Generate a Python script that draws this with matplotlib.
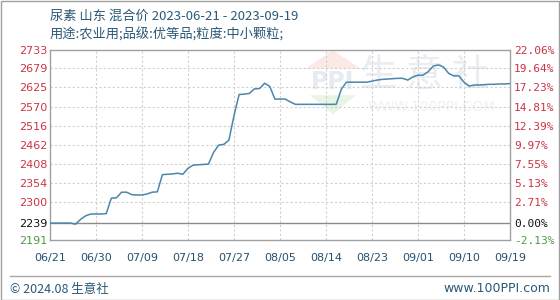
import numpy as np
import pandas as pd
import matplotlib
matplotlib.use('Agg')
import matplotlib.pyplot as plt
from matplotlib.patches import Rectangle, Polygon

plt.rcParams['font.family'] = ['Noto Sans CJK SC', 'DejaVu Sans']

# data, one value per day from 2023-06-21
start_date = '2023-06-21'
prices = [2239, 2239, 2239, 2239, 2239, 2236, 2250, 2260, 2265, 2265,
          2265, 2266, 2310, 2311, 2327, 2327, 2320, 2319, 2319, 2322,
          2327, 2328, 2377, 2378, 2379, 2381, 2378, 2395, 2404, 2405,
          2406, 2407, 2440, 2461, 2463, 2475, 2545, 2605, 2606, 2608,
          2621, 2622, 2637, 2628, 2592, 2592, 2592, 2584, 2577, 2577,
          2577, 2577, 2577, 2577, 2577, 2577, 2577, 2620, 2640, 2640,
          2640, 2640, 2640, 2643, 2646, 2648, 2649, 2650, 2651, 2651,
          2646, 2655, 2660, 2660, 2670, 2686, 2689, 2683, 2665, 2658,
          2658, 2640, 2629, 2632, 2632, 2633, 2634, 2634, 2635, 2635,
          2636]
base_price = 2239
y_ticks = [2191, 2239, 2300, 2354, 2408, 2462, 2516, 2570, 2625, 2679, 2733]
y_labels = ['2191', '2239', '2300', '2354', '2408', '2462', '2516', '2570', '2625', '2679', '2733']
pct_labels = ['-2.13%', '0.00%', '2.71%', '5.13%', '7.55%', '9.97%', '12.39%',
              '14.81%', '17.23%', '19.64%', '22.06%']
x_ticks = ['06/21', '06/30', '07/09', '07/18', '07/27', '08/05', '08/14',
           '08/23', '09/01', '09/10', '09/19']

title_text = '尿素 山东 混合价 2023-06-21 - 2023-09-19'
sub_text = '用途:农业用;品级:优等品;粒度:中小颗粒;'

dates = pd.date_range(start_date, periods=len(prices), freq='D')
tick_dates = [pd.Timestamp('2023-' + t.replace('/', '-')) for t in x_ticks]

W, H = 560, 300
fig = plt.figure(figsize=(W / 100, H / 100), dpi=100)
fig.patch.set_facecolor('white')
fig.patches.append(Rectangle((0.5 / W, 0.5 / H), 1 - 1.5 / W, 1 - 1.5 / H,
                             transform=fig.transFigure, fill=False,
                             edgecolor='#a0a0a0', linewidth=1))

ax = fig.add_axes([50 / W, 60 / H, 460 / W, 190.5 / H])
ax.set_xlim(dates[0], dates[-1])
ax.set_ylim(2191, 2733)

# watermark
wm = '#e9edf2'
ax.text(0.815, 0.865, '生 意 社', transform=ax.transAxes, fontsize=27,
        color=wm, ha='center', va='center', zorder=0)
ax.text(0.83, 0.70, 'WWW.100PPI.COM', transform=ax.transAxes, fontsize=10,
        color='#eef1f4', ha='center', va='center', zorder=0,
        family=['DejaVu Sans'])
ax.add_patch(Polygon([[0.555, 0.90], [0.615, 0.995], [0.675, 0.90]],
                     closed=True, transform=ax.transAxes,
                     facecolor='#fbe9e6', edgecolor='none', zorder=0))
ax.add_patch(Polygon([[0.565, 0.76], [0.615, 0.66], [0.665, 0.76]],
                     closed=True, transform=ax.transAxes,
                     facecolor='#e8f4e5', edgecolor='none', zorder=0))
ax.text(0.615, 0.83, 'PPI', transform=ax.transAxes, fontsize=17,
        fontweight='bold', color='#e6ebf2', ha='center', va='center',
        zorder=0, family=['DejaVu Sans'])

for t in y_ticks[2:-1]:
    ax.axhline(t, color='#cfcfcf', linestyle=(0, (2, 2)), linewidth=0.8, zorder=1)
for d in tick_dates[1:-1]:
    ax.axvline(d, color='#cfcfcf', linestyle=(0, (2, 2)), linewidth=0.8, zorder=1)
ax.axhline(base_price, color='#8a8a8a', linewidth=1, zorder=2)

ax.plot(dates, prices, color='#4a86ab', linewidth=1.1, zorder=3)

for s in ax.spines.values():
    s.set_color('#a0a0a0')
    s.set_linewidth(1)

ax.set_yticks(y_ticks)
ax.set_yticklabels(y_labels, family=['DejaVu Sans'])
ax.set_xticks(tick_dates)
ax.set_xticklabels(x_ticks, family=['DejaVu Sans'])
ax.tick_params(axis='both', length=0, labelsize=8)
ax.tick_params(axis='y', pad=22)
for lbl in ax.get_yticklabels():
    lbl.set_ha('left')
ax.tick_params(axis='x', pad=9, colors='#25506e')
ylc = ['#4f9a46', '#111111'] + ['#cc3344'] * 9
for lbl, c in zip(ax.get_yticklabels(), ylc):
    lbl.set_color(c)

ax2 = ax.twinx()
ax2.set_ylim(2191, 2733)
ax2.set_yticks(y_ticks)
ax2.set_yticklabels(pct_labels, family=['DejaVu Sans Mono'])
ax2.tick_params(axis='y', length=0, labelsize=8, pad=3)
for lbl, c in zip(ax2.get_yticklabels(), ylc):
    lbl.set_color(c)
for s in ax2.spines.values():
    s.set_visible(False)

tc = '#2a5878'
fig.text(50 / W, 1 - 16 / H, title_text, fontsize=9.5, color=tc, va='center')
fig.text(50 / W, 1 - 35 / H, sub_text, fontsize=9.5, color=tc, va='center')

fig.add_artist(plt.Line2D([10 / W, 550 / W], [1 - 276 / H, 1 - 276 / H],
                          transform=fig.transFigure, color='#a8a8a8', linewidth=1))
fig.text(10 / W, 1 - 289 / H, '© 2024.08 生意社', fontsize=9, color=tc, va='center')
fig.text(550 / W, 1 - 289 / H, 'www.100PPI.com', fontsize=9, color=tc,
         va='center', ha='right', family=['DejaVu Sans'])

fig.savefig('out.png', dpi=100, facecolor='white')
